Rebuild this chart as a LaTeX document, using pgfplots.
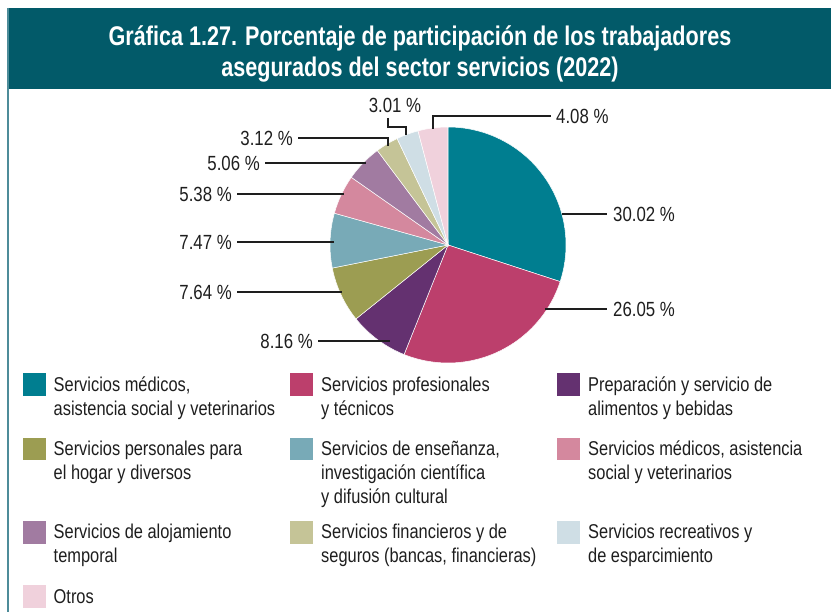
\documentclass[border=0pt]{standalone}
\usepackage{pgfplots}
\pgfplotsset{compat=1.18}
\usepackage{fontspec}
\setmainfont{Liberation Sans}[FakeStretch=0.82]
\newfontfamily\titlefont{Liberation Sans}[FakeStretch=0.80]

\definecolor{headcol}{HTML}{025A69}
\definecolor{bordercol}{HTML}{4D8C99}
\definecolor{txt}{HTML}{1E1E1E}
\definecolor{c1}{HTML}{007E90}
\definecolor{c2}{HTML}{BC3F6C}
\definecolor{c3}{HTML}{643170}
\definecolor{c4}{HTML}{9C9D52}
\definecolor{c5}{HTML}{78AAB7}
\definecolor{c6}{HTML}{D4889E}
\definecolor{c7}{HTML}{A17BA1}
\definecolor{c8}{HTML}{C5C497}
\definecolor{c9}{HTML}{CFDEE5}
\definecolor{c10}{HTML}{F0D1DC}

% one legend line, baseline at (x,y)
\newcommand\legline[3]{\node[anchor=base west, inner sep=0pt, text=txt,
  font=\fontsize{20}{24}\selectfont] at (axis cs:#1,#2) {#3};}
% legend square, top left corner at (x,y)
\newcommand\legbox[3]{\fill[#3] (axis cs:#1,#2) rectangle (axis cs:#1+22.5,#2+22.5);}

\begin{document}
\begin{tikzpicture}
\begin{axis}[
    x=1pt, y=1pt, y dir=reverse,
    xmin=0, xmax=831, ymin=0, ymax=612,
    hide axis, clip=false,
    every node/.append style={text=txt},
  ]
  % whole canvas
  \path (axis cs:0,0) rectangle (axis cs:831,612);
  % header band and left rule
  \fill[headcol] (axis cs:7,8) rectangle (axis cs:831,89);
  \draw[bordercol, line width=1.6pt] (axis cs:7.8,8) -- (axis cs:7.8,612);
  \node[anchor=base, text=white, inner sep=0pt,
    font=\titlefont\bfseries\fontsize{27}{32}\selectfont] at (axis cs:420,46)
    {Gráfica 1.27. Porcentaje de participación de los trabajadores};
  \node[anchor=base, text=white, inner sep=0pt,
    font=\titlefont\bfseries\fontsize{27}{32}\selectfont] at (axis cs:420,77)
    {asegurados del sector servicios (2022)};

  % pie slices, clockwise from the top
  \foreach \v/\c [remember=\e as \s (initially 90)] in
    {30.02/c1, 26.05/c2, 8.16/c3, 7.64/c4, 7.47/c5,
     5.38/c6, 5.06/c7, 3.12/c8, 3.01/c9, 4.08/c10}{
    \pgfmathsetmacro\e{\s-3.6*\v}
    \edef\temp{\noexpand\fill[\c, draw=white, line width=0.5pt]
      (axis cs:448,245) -- ++(\s:118pt) arc[start angle=\s, end angle=\e, radius=118pt] -- cycle;}
    \temp
  }

  % leader lines
  \begin{scope}[draw=txt, line width=1.1pt]
    \draw (axis cs:562,214) -- (axis cs:607,214);
    \draw (axis cs:545,309) -- (axis cs:607,309);
    \draw (axis cs:318,341) -- (axis cs:390,341);
    \draw (axis cs:237,292) -- (axis cs:342,292);
    \draw (axis cs:237,242) -- (axis cs:334,242);
    \draw (axis cs:237,194) -- (axis cs:344,194);
    \draw (axis cs:265,163) -- (axis cs:366,163);
    \draw (axis cs:298,138) -- (axis cs:388,138) -- (axis cs:388,146);
    \draw (axis cs:388,118) -- (axis cs:388,127) -- (axis cs:406,127) -- (axis cs:406,135);
    \draw (axis cs:433,129) -- (axis cs:433,116) -- (axis cs:551,116);
  \end{scope}

  % slice labels
  \begin{scope}[every node/.style={inner sep=0pt, text=txt, font=\fontsize{20.5}{24}\selectfont}]
    \node[anchor=west] at (axis cs:613,214) {30.02 \%};
    \node[anchor=west] at (axis cs:613,309) {26.05 \%};
    \node[anchor=east] at (axis cs:313,341) {8.16 \%};
    \node[anchor=east] at (axis cs:232,292) {7.64 \%};
    \node[anchor=east] at (axis cs:232,242) {7.47 \%};
    \node[anchor=east] at (axis cs:232,194) {5.38 \%};
    \node[anchor=east] at (axis cs:260,163) {5.06 \%};
    \node[anchor=east] at (axis cs:293,138) {3.12 \%};
    \node at (axis cs:395,105) {3.01 \%};
    \node[anchor=west] at (axis cs:556,116) {4.08 \%};
  \end{scope}

  % legend
  \legbox{23}{373}{c1}
  \legline{53.5}{391.5}{Servicios médicos,}
  \legline{53.5}{415.5}{asistencia social y veterinarios}
  \legbox{290}{373}{c2}
  \legline{321}{391.5}{Servicios profesionales}
  \legline{321}{415.5}{y técnicos}
  \legbox{557}{373}{c3}
  \legline{588}{391.5}{Preparación y servicio de}
  \legline{588}{415.5}{alimentos y bebidas}

  \legbox{23}{437.5}{c4}
  \legline{53.5}{455}{Servicios personales para}
  \legline{53.5}{479}{el hogar y diversos}
  \legbox{290}{437.5}{c5}
  \legline{321}{455}{Servicios de enseñanza,}
  \legline{321}{479}{investigación científica}
  \legline{321}{503}{y difusión cultural}
  \legbox{557}{437.5}{c6}
  \legline{588}{455}{Servicios médicos, asistencia}
  \legline{588}{479}{social y veterinarios}

  \legbox{23}{521}{c7}
  \legline{53.5}{538.5}{Servicios de alojamiento}
  \legline{53.5}{562.5}{temporal}
  \legbox{290}{521}{c8}
  \legline{321}{538.5}{Servicios financieros y de}
  \legline{321}{562.5}{seguros (bancas, financieras)}
  \legbox{557}{521}{c9}
  \legline{588}{538.5}{Servicios recreativos y}
  \legline{588}{562.5}{de esparcimiento}

  \legbox{23}{585}{c10}
  \legline{53.5}{603}{Otros}
\end{axis}
\end{tikzpicture}
\end{document}
